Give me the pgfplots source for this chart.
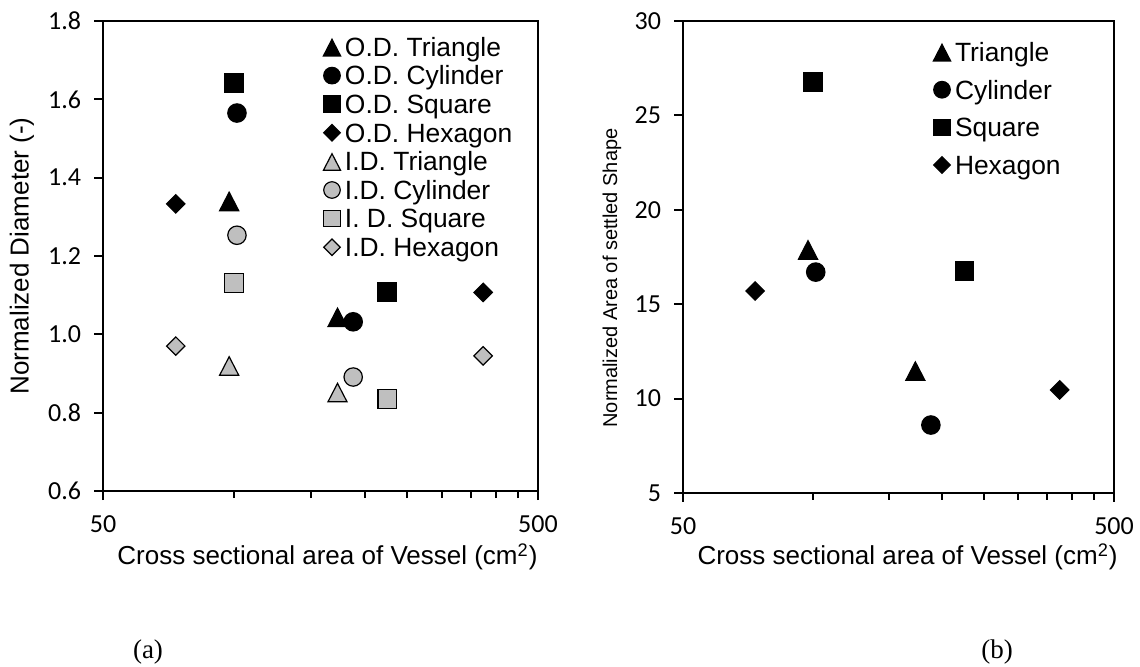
\documentclass[border=0pt]{standalone}
\usepackage{pgfplots}
\pgfplotsset{compat=1.18}
\usepackage{fontspec}
\setmainfont{Liberation Sans}
\newfontfamily\calibri{Carlito}
\newfontfamily\capfont{Liberation Serif}
\definecolor{idgray}{RGB}{191,191,191}

% legend shows a single, slightly smaller mark
\pgfplotsset{
  legend image code/.code={
    \path[draw=none, fill=none] (-5bp,-6bp) rectangle (6.5bp,6bp);
    \draw[#1, only marks, every mark/.append style={scale=0.9}] plot coordinates {(0bp,0bp)};
  },
}

\begin{document}
\begin{tikzpicture}
\useasboundingbox (0,0) rectangle (570bp,333.5bp);

% (a) outer and inner diameter
\begin{semilogxaxis}[
  scale only axis,
  at={(51.5bp,88bp)}, anchor=south west,
  width=217.5bp, height=235bp,
  xmin=50, xmax=500,
  xtick={50,500}, xticklabels={50,500},
  minor xtick={100,150,200,250,300,350,400,450},
  tick pos=left,
  tick align=outside,
  major tick length=4.5bp,
  minor tick length=3.5bp,
  every tick/.append style={black, line width=1bp},
  axis line style={line width=1bp},
  /pgf/number format/assume math mode=true,
  tick label style={font=\calibri\fontsize{13bp}{15bp}\selectfont},
  xticklabel style={yshift=-4.5bp},
  yticklabel style={xshift=-3bp},
  label style={font=\fontsize{13bp}{15bp}\selectfont},
  legend cell align=left,
  ymin=0.6, ymax=1.8,
  ytick={0.6,0.8,1.0,1.2,1.4,1.6,1.8},
  yticklabel style={/pgf/number format/.cd, fixed, fixed zerofill, precision=1},
  xlabel={Cross sectional area of Vessel (cm\textsuperscript{2})},
  ylabel={Normalized Diameter (-)},
  xlabel style={at={(axis description cs:0.516,-0.1574)}, anchor=base},
  ylabel style={at={(axis description cs:-0.1862,0.5)}, anchor=center},
  legend style={at={(0.5034,0.9702)}, anchor=north west, draw=none, fill=none,
    inner sep=0pt, outer sep=0pt, row sep=2.3bp, column sep=0pt,
    font=\fontsize{13.2bp}{15bp}\selectfont,
    nodes={inner sep=0pt, text height=9.3bp, text depth=0pt}},
]
\addplot[only marks, mark=triangle*, mark size=5.5bp,
  mark options={draw=black, fill=black, line width=0.6bp, yscale=1.12, yshift=-1.5bp}]
  coordinates {(97.5,1.340) (173,1.044)};
\addlegendentry{O.D. Triangle}
\addplot[only marks, mark=*, mark size=4.6bp,
  mark options={draw=black, fill=black, line width=0.6bp}]
  coordinates {(101.6,1.565) (188,1.032)};
\addlegendentry{O.D. Cylinder}
\addplot[only marks, mark=square*, mark size=4.6bp,
  mark options={draw=black, fill=black, line width=0.6bp}]
  coordinates {(100,1.642) (225,1.108)};
\addlegendentry{O.D. Square}
\addplot[only marks, mark=square*, mark size=3.25bp,
  mark options={draw=black, fill=black, line width=0.6bp, rotate=45}]
  coordinates {(73.5,1.333) (374,1.107)};
\addlegendentry{O.D. Hexagon}
\addplot[only marks, mark=triangle*, mark size=5.5bp,
  mark options={draw=black, fill=idgray, line width=0.6bp, yscale=1.12, yshift=-1.5bp}]
  coordinates {(97.5,0.920) (173,0.852)};
\addlegendentry{I.D. Triangle}
\addplot[only marks, mark=*, mark size=4.6bp,
  mark options={draw=black, fill=idgray, line width=0.6bp}]
  coordinates {(101.6,1.253) (188,0.891)};
\addlegendentry{I.D. Cylinder}
\addplot[only marks, mark=square*, mark size=4.6bp,
  mark options={draw=black, fill=idgray, line width=0.6bp}]
  coordinates {(100,1.131) (225,0.835)};
\addlegendentry{I. D. Square}
\addplot[only marks, mark=square*, mark size=3.25bp,
  mark options={draw=black, fill=idgray, line width=0.6bp, rotate=45}]
  coordinates {(73.5,0.970) (374,0.945)};
\addlegendentry{I.D. Hexagon}
\end{semilogxaxis}

% (b) area of the settled shape
\begin{semilogxaxis}[
  scale only axis,
  at={(341.5bp,87bp)}, anchor=south west,
  width=215.5bp, height=236bp,
  xmin=50, xmax=500,
  xtick={50,500}, xticklabels={50,500},
  minor xtick={100,150,200,250,300,350,400,450},
  tick pos=left,
  tick align=outside,
  major tick length=4.5bp,
  minor tick length=3.5bp,
  every tick/.append style={black, line width=1bp},
  axis line style={line width=1bp},
  /pgf/number format/assume math mode=true,
  tick label style={font=\calibri\fontsize{13bp}{15bp}\selectfont},
  xticklabel style={yshift=-4.5bp},
  yticklabel style={xshift=-3bp},
  label style={font=\fontsize{13bp}{15bp}\selectfont},
  legend cell align=left,
  ymin=5, ymax=30,
  ytick={5,10,15,20,25,30},
  xlabel={Cross sectional area of Vessel (cm\textsuperscript{2})},
  ylabel={Normalized Area of settled Shape},
  xlabel style={at={(axis description cs:0.521,-0.1525)}, anchor=base},
  ylabel style={at={(axis description cs:-0.1647,0.4555)}, anchor=center,
    font=\fontsize{10bp}{12bp}\selectfont},
  legend style={at={(0.5777,0.9597)}, anchor=north west, draw=none, fill=none,
    inner sep=0pt, outer sep=0pt, row sep=6.85bp, column sep=0pt,
    font=\fontsize{13.2bp}{15bp}\selectfont,
    nodes={inner sep=0pt, text height=9.3bp, text depth=0pt}},
]
\addplot[only marks, mark=triangle*, mark size=5.5bp,
  mark options={draw=black, fill=black, line width=0.6bp, yscale=1.12, yshift=-1.5bp}]
  coordinates {(97.5,17.89) (173,11.47)};
\addlegendentry{Triangle}
\addplot[only marks, mark=*, mark size=4.6bp,
  mark options={draw=black, fill=black, line width=0.6bp}]
  coordinates {(101.6,16.70) (188,8.60)};
\addlegendentry{Cylinder}
\addplot[only marks, mark=square*, mark size=4.6bp,
  mark options={draw=black, fill=black, line width=0.6bp}]
  coordinates {(100,26.77) (225,16.76)};
\addlegendentry{Square}
\addplot[only marks, mark=square*, mark size=3.25bp,
  mark options={draw=black, fill=black, line width=0.6bp, rotate=45}]
  coordinates {(73.5,15.70) (374,10.46)};
\addlegendentry{Hexagon}
\end{semilogxaxis}

\node[font=\capfont\fontsize{13.5bp}{15bp}\selectfont] at (74bp,7.5bp) {(a)};
\node[font=\capfont\fontsize{13.5bp}{15bp}\selectfont] at (498.5bp,7.5bp) {(b)};
\end{tikzpicture}
\end{document}
